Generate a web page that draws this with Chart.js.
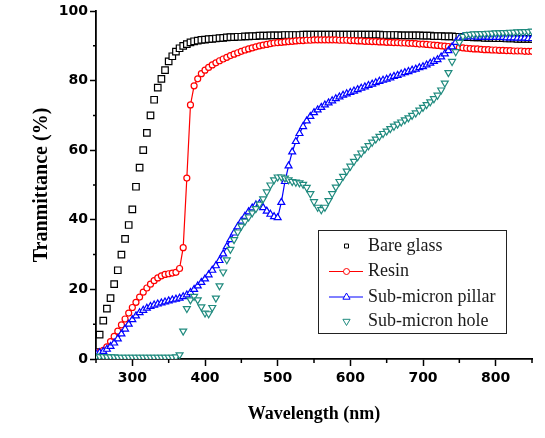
<!DOCTYPE html>
<html>
<head>
<meta charset="utf-8">
<script src="https://cdn.jsdelivr.net/npm/chart.js@4/dist/chart.umd.min.js"></script>
<style>
  html, body { margin: 0; padding: 0; background: #fff; }
  #wrap { width: 545px; height: 438px; }
</style>
</head>
<body>
<div id="wrap"><canvas id="transChart" width="545" height="438"></canvas></div>
<script>
// wavelength grid (nm)
const wavelength = [
  250,255,260,265,270,275,280,285,290,295,
  300,305,310,315,320,325,330,335,340,345,
  350,355,360,365,370,375,380,385,390,395,
  400,405,410,415,420,425,430,435,440,445,
  450,455,460,465,470,475,480,485,490,495,
  500,505,510,515,520,525,530,535,540,545,
  550,555,560,565,570,575,580,585,590,595,
  600,605,610,615,620,625,630,635,640,645,
  650,655,660,665,670,675,680,685,690,695,
  700,705,710,715,720,725,730,735,740,745,
  750,755,760,765,770,775,780,785,790,795,
  800,805,810,815,820,825,830,835,840,845,
  850
];

const bareGlass = [
  2,7,11,14.5,17.5,21.5,25.5,30,34.5,38.5,
  43,49.5,55,60,65,70,74.5,78,80.5,83,
  85.5,87,88.3,89.3,90,90.5,91,91.3,91.5,91.7,
  91.8,91.9,92,92.1,92.2,92.3,92.4,92.5,92.5,92.6,
  92.6,92.7,92.7,92.8,92.8,92.9,92.9,92.9,93,93,
  93,93,93.1,93.1,93.1,93.1,93.1,93.2,93.2,93.2,
  93.2,93.2,93.2,93.2,93.2,93.2,93.2,93.2,93.2,93.2,
  93.2,93.2,93.2,93.2,93.2,93.2,93.2,93.2,93.2,93.1,
  93.1,93.1,93.1,93.1,93,93,93,93,93,93,
  92.9,92.9,92.9,92.8,92.8,92.8,92.7,92.7,92.7,92.6,
  92.6,92.5,92.5,92.5,92.4,92.4,92.4,92.3,92.3,92.3,
  92.2,92.2,92.2,92.1,92.1,92.1,92,92,92,92,
  92
];

const resin = [
  1.5,2,2.5,3.5,5,6.5,8,9.8,11.5,13.2,
  14.8,16.3,17.8,19.2,20.4,21.5,22.5,23.3,23.9,24.3,
  24.5,24.7,24.9,26,32,52,73,78.5,80.5,82,
  83,83.8,84.5,85.1,85.7,86.2,86.7,87.2,87.6,88,
  88.4,88.8,89.1,89.4,89.7,90,90.2,90.4,90.6,90.8,
  90.9,91,91.1,91.2,91.3,91.4,91.5,91.5,91.6,91.6,
  91.7,91.7,91.7,91.7,91.7,91.7,91.7,91.6,91.6,91.6,
  91.5,91.5,91.4,91.4,91.3,91.3,91.2,91.2,91.1,91.1,
  91,91,90.9,90.9,90.8,90.8,90.7,90.7,90.6,90.5,
  90.5,90.4,90.3,90.2,90.1,90,89.9,89.8,89.7,89.6,
  89.5,89.4,89.3,89.2,89.1,89.1,89,88.9,88.9,88.8,
  88.8,88.7,88.7,88.6,88.6,88.5,88.5,88.5,88.4,88.4,
  88.4
];

const subPillar = [
  1.5,1.8,2.2,2.8,3.6,4.6,5.8,7.2,8.6,10,
  11.3,12.4,13.3,14,14.6,15.1,15.5,15.8,16.1,16.4,
  16.7,17,17.2,17.5,17.9,18.4,19.1,20,21,22,
  23,24.2,25.5,26.8,28.3,30.2,32.3,34.3,36.2,38,
  39.6,41,42.3,43.4,44.3,44.6,43.5,42.5,41.6,40.9,
  40.6,45,51,55.5,59.5,62.5,64.8,66.8,68.4,69.7,
  70.8,71.6,72.3,73,73.6,74.2,74.8,75.3,75.8,76.2,
  76.6,77,77.4,77.8,78.2,78.6,79,79.4,79.8,80.1,
  80.4,80.8,81.2,81.5,81.9,82.3,82.6,83,83.3,83.7,
  84,84.5,85,85.5,86,86.8,87.7,88.6,89.7,91,
  92.2,92.5,92.6,92.6,92.6,92.5,92.5,92.5,92.5,92.4,
  92.4,92.4,92.4,92.3,92.3,92.3,92.2,92.2,92.2,92.1,
  92.1
];

const subHole = [
  0.8,0.7,0.7,0.6,0.6,0.6,0.5,0.5,0.5,0.5,
  0.5,0.5,0.5,0.5,0.5,0.5,0.5,0.5,0.5,0.5,
  0.5,0.5,0.6,1.2,8,14.5,17,18,17,15,
  13.2,13,14.8,17.5,21,25,28.5,31.5,34.3,36.5,
  38.2,39.6,40.8,42,43.2,44.5,46,48,50,51.5,
  52.3,52.3,52,51.5,51,50.8,50.6,50.2,49.3,47.5,
  45.2,43.6,42.9,43.6,45.5,47.5,49.4,51,52.5,54,
  55.4,56.8,58.1,59.2,60.3,61.3,62.3,63.2,64,64.8,
  65.5,66.2,66.9,67.5,68.1,68.7,69.3,70,70.7,71.5,
  72.3,73.1,73.9,74.8,75.8,77.3,79.3,82.3,85.5,88.3,
  91,92.7,93.2,93.3,93.4,93.4,93.5,93.5,93.6,93.6,
  93.7,93.7,93.8,93.8,93.9,93.9,94,94,94.1,94.1,
  94.2
];

const seriesNames = ['Bare glass', 'Resin', 'Sub-micron pillar', 'Sub-micron hole'];
const seriesColors = ['#000000', '#ff0000', '#0000ff', '#1f8a7e'];

const xTickLabels = [300, 400, 500, 600, 700, 800];
const yTickLabels = [0, 20, 40, 60, 80, 100];

function pairs(values) {
  return wavelength.map((w, i) => ({ x: w, y: values[i] }));
}

// short minor ticks (Origin style)
const minorTicks = {
  id: 'minorTicks',
  afterDraw(chart) {
    const ctx = chart.ctx;
    const xs = chart.scales.x, ys = chart.scales.y;
    const area = chart.chartArea;
    ctx.save();
    ctx.strokeStyle = '#000';
    ctx.lineWidth = 1.5;
    ctx.beginPath();
    xs.ticks.forEach(t => {
      if (t.value % 100 !== 0) {
        const px = xs.getPixelForValue(t.value);
        ctx.moveTo(px, area.bottom);
        ctx.lineTo(px, area.bottom + 4);
      }
    });
    ys.ticks.forEach(t => {
      if (t.value % 20 !== 0) {
        const py = ys.getPixelForValue(t.value);
        ctx.moveTo(area.left, py);
        ctx.lineTo(area.left - 3, py);
      }
    });
    ctx.stroke();
    ctx.restore();
  }
};

// boxed legend inside the plot
const boxLegend = {
  id: 'boxLegend',
  afterDraw(chart) {
    const ctx = chart.ctx;
    const bx = 318, by = 230, bw = 188, bh = 103;
    ctx.save();
    ctx.strokeStyle = '#222';
    ctx.lineWidth = 1;
    ctx.strokeRect(bx + 0.5, by + 0.5, bw, bh);
    const rows = [246, 271.5, 297, 321.5];
    const sx = 346.5;
    ctx.font = '18px "Liberation Serif", "Times New Roman", serif';
    ctx.textBaseline = 'middle';
    seriesNames.forEach((name, i) => {
      const y = rows[i];
      const c = seriesColors[i];
      ctx.strokeStyle = c;
      ctx.lineWidth = 1;
      if (i === 1 || i === 2) {
        ctx.beginPath();
        ctx.moveTo(329, y);
        ctx.lineTo(363, y);
        ctx.stroke();
      }
      ctx.fillStyle = '#fff';
      ctx.beginPath();
      if (i === 0) {
        ctx.rect(sx - 2, y - 2, 4, 4);
      } else if (i === 1) {
        ctx.arc(sx, y, 3, 0, Math.PI * 2);
      } else if (i === 2) {
        ctx.moveTo(sx, y - 4);
        ctx.lineTo(sx + 3.6, y + 2.2);
        ctx.lineTo(sx - 3.6, y + 2.2);
        ctx.closePath();
      } else {
        ctx.moveTo(sx, y + 4);
        ctx.lineTo(sx + 3.6, y - 2.2);
        ctx.lineTo(sx - 3.6, y - 2.2);
        ctx.closePath();
      }
      ctx.fill();
      ctx.stroke();
      ctx.fillStyle = '#1a1a1a';
      ctx.fillText(name, 368, y);
    });
    ctx.restore();
  }
};

const tickFont = { family: '"DejaVu Sans", sans-serif', size: 14, weight: 'bold' };

new Chart(document.getElementById('transChart'), {
  type: 'line',
  data: {
    datasets: [
      {
        label: seriesNames[0], data: pairs(bareGlass), order: 4,
        showLine: false, pointStyle: 'rect', pointRadius: 4.6,
        borderColor: seriesColors[0], backgroundColor: '#fff', borderWidth: 1.2
      },
      {
        label: seriesNames[1], data: pairs(resin), order: 3,
        pointStyle: 'circle', pointRadius: 3, borderWidth: 1.2,
        borderColor: seriesColors[1], backgroundColor: '#fff', tension: 0
      },
      {
        label: seriesNames[2], data: pairs(subPillar), order: 2,
        pointStyle: 'triangle', pointRadius: 4, borderWidth: 1.2,
        borderColor: seriesColors[2], backgroundColor: '#fff', tension: 0
      },
      {
        label: seriesNames[3], data: pairs(subHole), order: 1,
        showLine: false, pointStyle: 'triangle', pointRotation: 180, pointRadius: 4,
        borderColor: seriesColors[3], backgroundColor: '#fff', borderWidth: 1.2
      }
    ]
  },
  options: {
    responsive: false,
    animation: false,
    layout: { padding: { top: 11, right: 13, left: 0, bottom: 0 } },
    plugins: { legend: { display: false }, tooltip: { enabled: false } },
    scales: {
      x: {
        type: 'linear', min: 250, max: 850,
        afterFit(s) { s.height = 79; },
        ticks: {
          stepSize: 50, autoSkip: false, maxRotation: 0, padding: 4,
          color: '#000', font: tickFont,
          callback: v => xTickLabels.includes(v) ? String(v) : ''
        },
        grid: {
          drawOnChartArea: false, drawTicks: true, tickLength: 7, tickWidth: 1.5,
          tickColor: ctx => (ctx.tick && ctx.tick.value % 100 === 0) ? '#000' : 'rgba(0,0,0,0)'
        },
        border: { display: true, color: '#000', width: 1.8 },
        title: {
          display: true, text: 'Wavelength (nm)', color: '#000',
          font: { family: '"Liberation Serif", "Times New Roman", serif', size: 18, weight: 'bold', lineHeight: 1 },
          padding: { top: 0, bottom: 15 }
        }
      },
      y: {
        min: 0, max: 100,
        afterFit(s) { s.width = 96; },
        ticks: {
          stepSize: 10, autoSkip: false, padding: 2,
          color: '#000', font: tickFont,
          callback: v => yTickLabels.includes(v) ? String(v) : ''
        },
        grid: {
          drawOnChartArea: false, drawTicks: true, tickLength: 6, tickWidth: 1.5,
          tickColor: ctx => (ctx.tick && ctx.tick.value % 20 === 0) ? '#000' : 'rgba(0,0,0,0)'
        },
        border: { display: true, color: '#000', width: 1.8 },
        title: {
          display: true, text: 'Tranmittance (%)', color: '#000',
          font: { family: '"Liberation Serif", "Times New Roman", serif', size: 20, weight: 'bold', lineHeight: 1 },
          padding: { top: 32, bottom: 0 }
        }
      }
    }
  },
  plugins: [minorTicks, boxLegend]
});
</script>
</body>
</html>
